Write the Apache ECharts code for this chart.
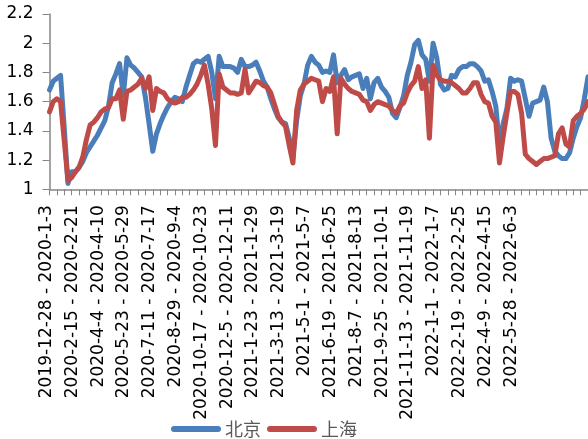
<!DOCTYPE html>
<html>
<head>
<meta charset="utf-8">
<script src="https://cdn.jsdelivr.net/npm/echarts@6/dist/echarts.min.js"></script>
<style>
html,body{margin:0;padding:0;background:#fff;}
#chart{width:588px;height:439px;}
</style>
</head>
<body>
<div id="chart"></div>
<script>
// Week ranges: first week start, number of weeks
var firstWeekStart = '2019-12-28';
var weekCount = 147;
// Shown tick labels: every 7th week up to this one
var lastLabelledWeek = '2022-5-28 - 2022-6-3';

var seriesNames = ['北京', '上海'];

var beijing = [
1.68,1.74,1.76,1.78,1.42,1.04,1.12,1.12,1.15,1.19,
1.25,1.29,1.33,1.37,1.42,1.47,1.57,1.73,1.79,1.86,
1.64,1.90,1.85,1.83,1.80,1.77,1.63,1.45,1.26,1.38,
1.45,1.51,1.56,1.60,1.63,1.62,1.60,1.70,1.78,1.86,
1.88,1.87,1.89,1.91,1.80,1.62,1.91,1.84,1.84,1.84,
1.83,1.80,1.89,1.84,1.84,1.85,1.87,1.81,1.74,1.70,
1.62,1.55,1.49,1.46,1.45,1.35,1.22,1.47,1.64,1.72,
1.85,1.91,1.87,1.85,1.80,1.81,1.80,1.92,1.73,1.78,
1.82,1.75,1.77,1.78,1.79,1.69,1.76,1.62,1.73,1.76,
1.70,1.67,1.63,1.52,1.49,1.56,1.64,1.78,1.87,1.99,
2.02,1.92,1.89,1.74,2.00,1.90,1.72,1.68,1.69,1.78,
1.77,1.82,1.84,1.84,1.86,1.86,1.84,1.81,1.74,1.75,
1.67,1.57,1.30,1.45,1.55,1.76,1.74,1.75,1.74,1.62,
1.50,1.59,1.60,1.61,1.70,1.60,1.35,1.26,1.23,1.21,
1.21,1.25,1.35,1.43,1.49,1.62,1.77
];

var shanghai = [
1.53,1.60,1.62,1.60,1.33,1.06,1.08,1.12,1.15,1.22,
1.34,1.44,1.46,1.49,1.53,1.55,1.56,1.62,1.62,1.68,
1.48,1.67,1.68,1.70,1.72,1.76,1.69,1.77,1.54,1.69,
1.67,1.66,1.62,1.60,1.59,1.60,1.63,1.63,1.65,1.68,
1.72,1.78,1.85,1.72,1.55,1.30,1.79,1.70,1.68,1.66,
1.66,1.65,1.66,1.82,1.66,1.70,1.74,1.73,1.71,1.70,
1.66,1.58,1.50,1.46,1.43,1.30,1.18,1.54,1.68,1.72,
1.74,1.76,1.75,1.74,1.60,1.69,1.67,1.77,1.38,1.76,
1.72,1.69,1.67,1.66,1.65,1.61,1.60,1.54,1.58,1.60,
1.59,1.58,1.57,1.54,1.52,1.57,1.59,1.66,1.71,1.74,
1.84,1.69,1.75,1.35,1.85,1.78,1.75,1.74,1.74,1.73,
1.71,1.69,1.66,1.66,1.69,1.73,1.73,1.65,1.60,1.59,
1.50,1.46,1.18,1.36,1.52,1.67,1.67,1.65,1.52,1.24,
1.21,1.19,1.17,1.19,1.21,1.21,1.22,1.23,1.38,1.42,
1.31,1.29,1.47,1.50,1.52,1.55,1.60
];

var yTicks = [1, 1.2, 1.4, 1.6, 1.8, 2, 2.2];

function fmt(d) {
  return d.getUTCFullYear() + '-' + (d.getUTCMonth() + 1) + '-' + d.getUTCDate();
}
var categories = [];
(function () {
  var p = firstWeekStart.split('-');
  var start = Date.UTC(+p[0], +p[1] - 1, +p[2]);
  for (var i = 0; i < weekCount; i++) {
    var a = new Date(start + i * 7 * 86400000);
    var b = new Date(start + (i * 7 + 6) * 86400000);
    categories.push(fmt(a) + ' - ' + fmt(b));
  }
})();
var lastLabelIndex = categories.indexOf(lastLabelledWeek);

var chart = echarts.init(document.getElementById('chart'), null, {renderer: 'canvas'});
var axisColor = '#868686';
var option = {
  backgroundColor: '#ffffff',
  animation: false,
  legend: {
    data: seriesNames,
    left: 166,
    top: 415,
    itemWidth: 50,
    itemHeight: 6,
    itemGap: 6,
    icon: 'path://M3,0 L47,0 A3,3 0 0 1 47,6 L3,6 A3,3 0 0 1 3,0 Z',
    textStyle: {
      fontFamily: 'Noto Sans CJK SC',
      fontSize: 18,
      color: '#595959',
      padding: [0, 0, 0, -1]
    }
  },
  grid: {
    left: 49.5,
    right: -2,
    top: 14,
    bottom: 249.7,
    containLabel: false
  },
  xAxis: {
    type: 'category',
    data: categories,
    boundaryGap: false,
    axisLine: {lineStyle: {color: axisColor, width: 1.5}},
    axisTick: {
      show: true,
      interval: 1,
      length: 6,
      lineStyle: {color: axisColor, width: 1}
    },
    axisLabel: {
      interval: function (idx) { return idx % 7 === 0 && idx <= lastLabelIndex; },
      rotate: 90,
      margin: 16,
      fontFamily: 'DejaVu Sans',
      fontSize: 17,
      color: '#000',
      verticalAlign: 'bottom',
      lineHeight: 6
    },
    splitLine: {show: false}
  },
  yAxis: {
    type: 'value',
    min: yTicks[0],
    max: yTicks[yTicks.length - 1],
    interval: 0.2,
    axisLine: {show: true, lineStyle: {color: axisColor, width: 1.5}},
    axisTick: {show: true, length: 7, lineStyle: {color: axisColor}},
    axisLabel: {
      margin: 16,
      fontFamily: 'DejaVu Sans',
      fontSize: 17,
      color: '#000',
      formatter: function (v) { return String(+v.toFixed(1)); }
    },
    splitLine: {show: false}
  },
  series: [
    {
      name: seriesNames[0],
      type: 'line',
      data: beijing,
      symbol: 'none',
      lineStyle: {color: '#4A7EBB', width: 5, join: 'round', cap: 'round'},
      itemStyle: {color: '#4A7EBB'}
    },
    {
      name: seriesNames[1],
      type: 'line',
      data: shanghai,
      symbol: 'none',
      lineStyle: {color: '#BE4B48', width: 5, join: 'round', cap: 'round'},
      itemStyle: {color: '#BE4B48'}
    }
  ]
};
chart.setOption(option);
</script>
</body>
</html>
